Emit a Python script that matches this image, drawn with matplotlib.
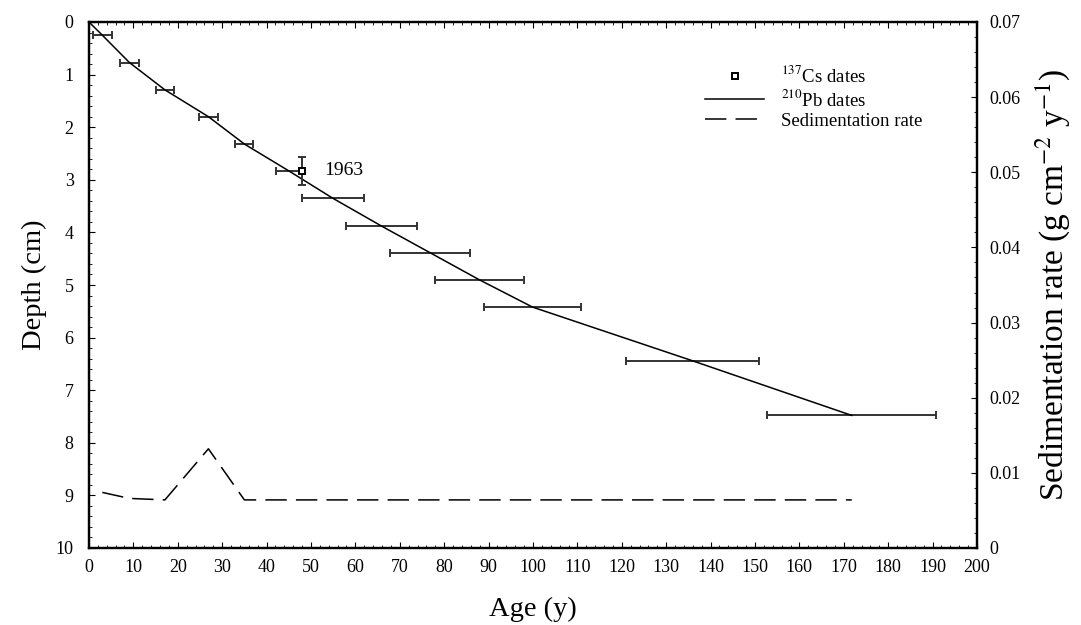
import numpy as np
import matplotlib
matplotlib.use("Agg")
import matplotlib.pyplot as plt
from matplotlib.ticker import MultipleLocator, AutoMinorLocator

matplotlib.rcParams.update({
    "font.family": "serif",
    "font.serif": ["Liberation Serif", "DejaVu Serif"],
    "mathtext.fontset": "stix",
    "font.size": 13,
    "axes.linewidth": 1.6,
    "xtick.direction": "in",
    "ytick.direction": "in",
    "xtick.major.size": 4,
    "ytick.major.size": 4,
    "xtick.minor.size": 2,
    "ytick.minor.size": 2,
})

# 210Pb dates: depth (cm), age (y), age error (y)
pb_depth = [0.25, 0.77, 1.29, 1.80, 2.32, 2.83, 3.35, 3.88, 4.39, 4.90, 5.42, 6.44, 7.48]
pb_age = [3.0, 9.1, 17.1, 26.9, 35.0, 45.0, 54.9, 65.9, 76.9, 87.9, 99.9, 135.9, 171.8]
pb_err = [2.1, 2.1, 2.0, 2.1, 2.0, 2.9, 7.0, 8.0, 9.0, 10.0, 11.0, 15.0, 19.0]

# CRS model curve (starts at the surface)
model_age = [0.0] + pb_age
model_depth = [0.0] + pb_depth

# 137Cs peak
cs_age = [47.9]
cs_depth = [2.83]
cs_err = [0.26]

# sedimentation rate (g cm-2 y-1)
sed_age = pb_age
sed_rate = [0.0074, 0.0066, 0.0064, 0.0132, 0.0064, 0.0064, 0.0064, 0.0064,
            0.0064, 0.0064, 0.0064, 0.0064, 0.0064]

fig = plt.figure(figsize=(10.81, 6.25), dpi=100)
ax = fig.add_axes([0.0823, 0.1232, 0.8215, 0.8416])

ax.errorbar(pb_age, pb_depth, xerr=pb_err, fmt="none", ecolor="#333333",
            elinewidth=1.4, capsize=3, capthick=1.4, zorder=2)
pb_line, = ax.plot(model_age, model_depth, color="black", lw=1.1, zorder=3)
ax.errorbar(cs_age, cs_depth, yerr=cs_err, fmt="none", ecolor="#333333",
            elinewidth=1.4, capsize=3, capthick=1.4, zorder=4)
cs_pt, = ax.plot(cs_age, cs_depth, "s", ms=5, mfc="white", mec="black", mew=1.4,
                 zorder=5, linestyle="none")
ax.text(cs_age[0] + 5, cs_depth[0], "1963", fontsize=14, va="center", ha="left")

ax.set_xlim(0, 200)
ax.set_ylim(10, 0)
ax.xaxis.set_major_locator(MultipleLocator(10))
ax.xaxis.set_minor_locator(AutoMinorLocator(5))
ax.yaxis.set_major_locator(MultipleLocator(1))
ax.yaxis.set_minor_locator(AutoMinorLocator(5))
ax.tick_params(axis="x", which="both", top=True, labelsize=13, pad=8)
ax.tick_params(axis="y", which="both", labelsize=13, pad=11)
ax.set_xlabel("Age (y)", fontsize=20.5)
ax.xaxis.set_label_coords(0.5, -0.092)
ax.set_ylabel("Depth (cm)", fontsize=20.5)
ax.yaxis.set_label_coords(-0.047, 0.5)

ax2 = ax.twinx()
sed_line, = ax2.plot(sed_age, sed_rate, color="black", lw=1.1, dashes=(14, 6))
ax2.set_ylim(0, 0.07)
ax2.set_yticks(np.arange(0, 0.0701, 0.01))
ax2.set_yticklabels(["0", "0.01", "0.02", "0.03", "0.04", "0.05", "0.06", "0.07"])
ax2.yaxis.set_minor_locator(AutoMinorLocator(5))
ax2.tick_params(axis="y", which="both", direction="in", labelsize=13, pad=9)
ax2.set_ylabel(r"Sedimentation rate (g cm$^{-2}$ y$^{-1}$)", fontsize=24)
ax2.yaxis.set_label_coords(1.064, 0.5)

ax.legend([cs_pt, pb_line, sed_line],
          [r"$^{137}$Cs dates", r"$^{210}$Pb dates", "Sedimentation rate"],
          loc="upper left", bbox_to_anchor=(0.675, 0.95), frameon=False,
          fontsize=13.5, handlelength=3.15, labelspacing=0.15, handletextpad=0.9)

fig.savefig("out.png", dpi=100, facecolor="white")
